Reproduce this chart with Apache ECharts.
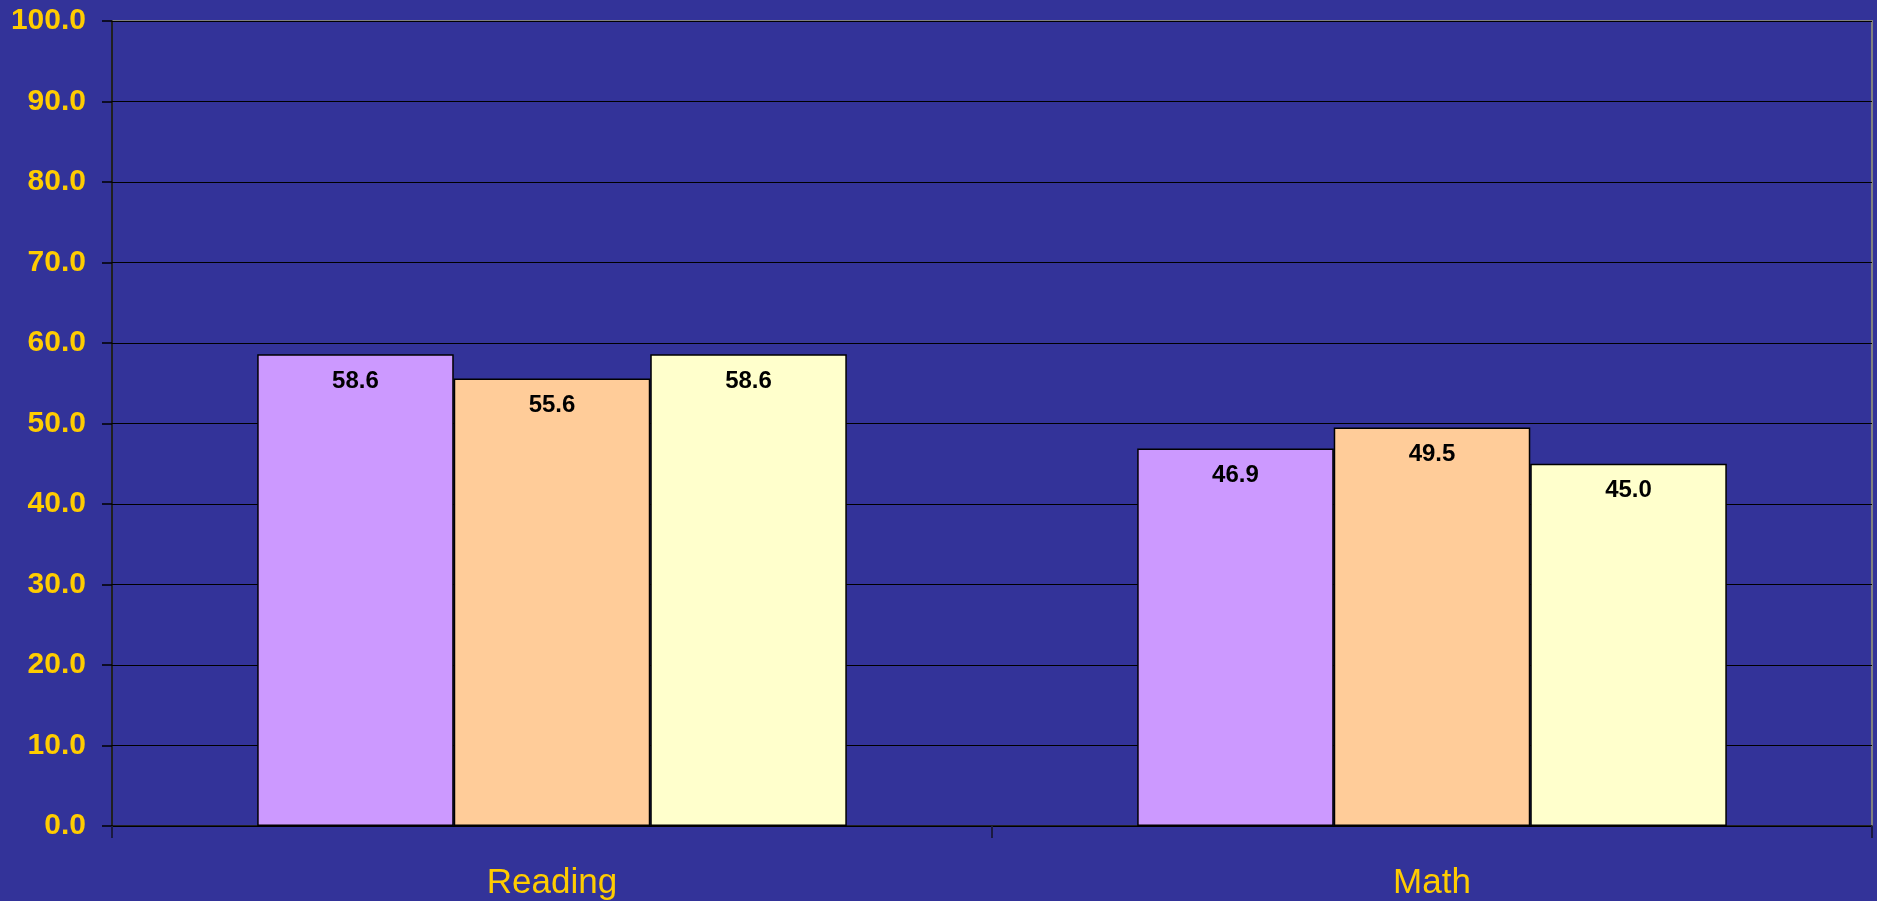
<!DOCTYPE html>
<html>
<head>
<meta charset="utf-8">
<script src="https://cdn.jsdelivr.net/npm/echarts@6/dist/echarts.min.js"></script>
<style>
  html, body { margin: 0; padding: 0; background: #333399; }
  #chart { width: 1877px; height: 901px; }
</style>
</head>
<body>
<div id="chart"></div>
<script>
// chart data
const categories = ['Reading', 'Math']
const seriesA = [58.6, 46.9]
const seriesB = [55.6, 49.5]
const seriesC = [58.6, 45.0]
const barColors = ['#CC99FF', '#FFCC99', '#FFFFCC']

const chart = echarts.init(document.getElementById('chart'))

const makeBar = (data, color) => ({
  type: 'bar',
  data: data,
  barGap: '0%',
  barCategoryGap: '33%',
  itemStyle: { color: color, borderColor: '#000', borderWidth: 1.5 },
  label: {
    show: true,
    position: 'insideTop',
    distance: 15,
    color: '#000',
    fontFamily: 'Liberation Sans',
    fontWeight: 'bold',
    fontSize: 24,
    formatter: p => p.value.toFixed(1)
  }
})

chart.setOption({
  backgroundColor: '#333399',
  animation: false,
  grid: {
    left: 112, right: 5, top: 21, bottom: 73,
    show: true,
    borderColor: '#808080',
    borderWidth: 2
  },
  xAxis: {
    type: 'category',
    data: categories,
    axisLine: { lineStyle: { color: '#000', width: 1.5 } },
    axisTick: { show: true, length: 12, lineStyle: { color: '#1a1a40', width: 2 } },
    axisLabel: {
      color: '#FFCC00',
      fontFamily: 'Liberation Sans',
      fontSize: 35,
      margin: 40
    }
  },
  yAxis: {
    type: 'value',
    min: 0,
    max: 100,
    interval: 10,
    axisLine: { show: true, lineStyle: { color: '#000', width: 1.5 } },
    axisTick: { show: true, length: 10, lineStyle: { color: '#000', width: 1.5 } },
    splitLine: { lineStyle: { color: '#000', width: 1 } },
    axisLabel: {
      color: '#FFCC00',
      fontFamily: 'Liberation Sans',
      fontWeight: 'bold',
      fontSize: 30,
      margin: 26,
      formatter: v => v.toFixed(1)
    }
  },
  series: [
    makeBar(seriesA, barColors[0]),
    makeBar(seriesB, barColors[1]),
    makeBar(seriesC, barColors[2])
  ]
})
</script>
</body>
</html>
